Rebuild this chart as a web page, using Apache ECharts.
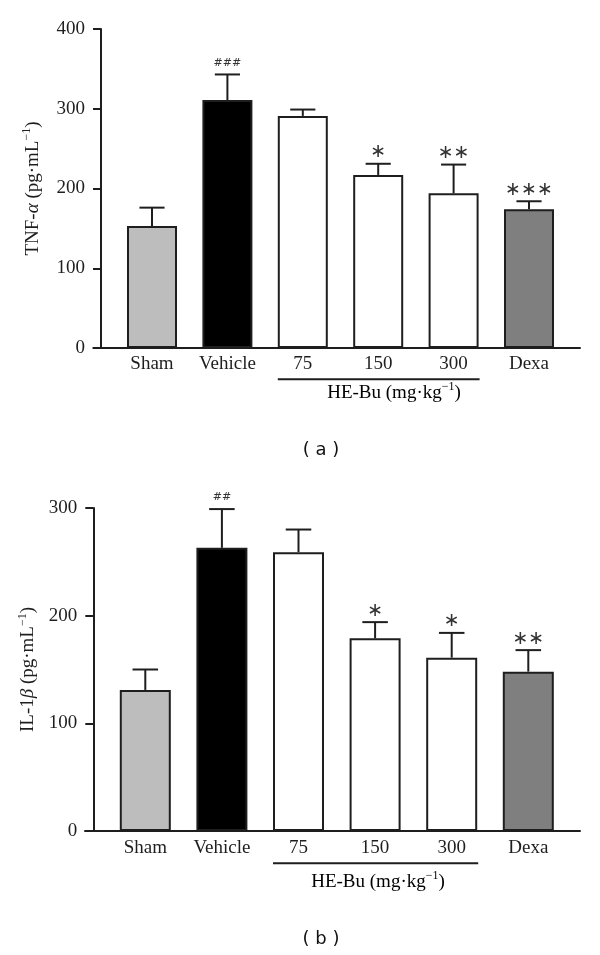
<!DOCTYPE html>
<html>
<head>
<meta charset="utf-8">
<script src="https://cdn.jsdelivr.net/npm/echarts@6/dist/echarts.min.js"></script>
<style>
html,body{margin:0;padding:0;background:#fff;}
#main{width:600px;height:955px;}
</style>
</head>
<body>
<div id="main"></div>
<script>
// ---- data ----
const categories = ['Sham', 'Vehicle', '75', '150', '300', 'Dexa'];
const tnfMean = [153, 311, 291, 217, 194, 174];
const tnfSem  = [23, 32, 8, 14, 36, 10];
const tnfSig  = ['', '###', '', '∗', '∗∗', '∗∗∗'];
const il1Mean = [131, 263, 259, 179, 161, 148];
const il1Sem  = [19, 36, 21, 15, 23, 20];
const il1Sig  = ['', '##', '', '∗', '∗', '∗∗'];
const tnfTicks = [0, 100, 200, 300, 400];
const il1Ticks = [0, 100, 200, 300];

// ---- style ----
const barColors = ['#bdbdbd', '#000000', '#ffffff', '#ffffff', '#ffffff', '#7f7f7f'];
const ink = '#1e1e1e';
const serif = '"Liberation Serif", "Times New Roman", serif';
const fs = 19;

const chart = echarts.init(document.getElementById('main'), null, {renderer: 'canvas'});

const richName = {
  n: {fontFamily: serif, fontSize: fs, color: ink},
  i: {fontFamily: serif, fontSize: fs, color: ink, fontStyle: 'italic'},
  s: {fontFamily: serif, fontSize: 12, color: ink, verticalAlign: 'top', lineHeight: 24}
};

function barSeries(gi, means) {
  return {
    type: 'bar', xAxisIndex: gi, yAxisIndex: gi,
    barWidth: gi === 0 ? 50 : 51,
    data: means.map((v, i) => ({value: v, itemStyle: {color: barColors[i]}})),
    itemStyle: {borderColor: ink, borderWidth: 2},
    silent: true, z: 2
  };
}

function errSeries(gi, means, sems, sigs) {
  return {
    type: 'custom', xAxisIndex: gi, yAxisIndex: gi, z: 5, silent: true,
    data: means.map((v, i) => [i, v, sems[i]]),
    renderItem: function (params, api) {
      const i = api.value(0);
      const base = api.coord([i, api.value(1)]);
      const top = api.coord([i, api.value(1) + api.value(2)]);
      const band = api.size([1, 0])[0];
      const half = band / 6;
      const sig = sigs[params.dataIndex];
      const children = [
        {type: 'line', shape: {x1: base[0], y1: base[1], x2: top[0], y2: top[1]}, style: {stroke: ink, lineWidth: 2}},
        {type: 'line', shape: {x1: top[0] - half, y1: top[1], x2: top[0] + half, y2: top[1]}, style: {stroke: ink, lineWidth: 2}}
      ];
      if (sig) {
        const isHash = sig.indexOf('#') >= 0;
        children.push({
          type: 'text',
          style: {
            text: sig, x: top[0], y: top[1] - (isHash ? 6 : 2),
            align: 'center', verticalAlign: 'bottom',
            fontFamily: '"DejaVu Sans", sans-serif',
            fontSize: isHash ? 11 : 19, fill: '#333'
          }
        });
      }
      return {type: 'group', children: children};
    }
  };
}

const option = {
  animation: false,
  grid: [
    {left: 114.3, top: 29, width: 452.4, height: 319},
    {left: 93.3, top: 29, width: 486.7, height: 319},
    {left: 107, top: 508, width: 459.6, height: 323},
    {left: 85, top: 508, width: 495, height: 323}
  ],
  xAxis: [
    {gridIndex: 0, type: 'category', data: categories,
     axisLine: {show: false}, axisTick: {show: false},
     axisLabel: {fontFamily: serif, fontSize: fs, color: ink, margin: 7}},
    {gridIndex: 1, type: 'value', min: 0, max: 1,
     axisLine: {show: true, lineStyle: {color: ink, width: 2}}, axisTick: {show: false},
     axisLabel: {show: false}, splitLine: {show: false}},
    {gridIndex: 2, type: 'category', data: categories,
     axisLine: {show: false}, axisTick: {show: false},
     axisLabel: {fontFamily: serif, fontSize: fs, color: ink, margin: 8}},
    {gridIndex: 3, type: 'value', min: 0, max: 1,
     axisLine: {show: true, lineStyle: {color: ink, width: 2}}, axisTick: {show: false},
     axisLabel: {show: false}, splitLine: {show: false}}
  ],
  yAxis: [
    {gridIndex: 0, type: 'value', min: tnfTicks[0], max: tnfTicks[tnfTicks.length - 1], interval: 100,
     offset: 13.3,
     axisLine: {show: true, lineStyle: {color: ink, width: 2}},
     axisTick: {show: true, length: 8, lineStyle: {color: ink, width: 2}},
     axisLabel: {fontFamily: serif, fontSize: fs, color: ink, margin: 16},
     splitLine: {show: false},
     name: '{n|TNF-}{i|α}{n| (pg·mL}{s|−1}{n|)}', nameLocation: 'middle', nameGap: 56,
     nameTextStyle: {rich: richName}},
    {gridIndex: 1, type: 'value', show: false, min: 0, max: 1},
    {gridIndex: 2, type: 'value', min: il1Ticks[0], max: il1Ticks[il1Ticks.length - 1], interval: 100,
     offset: 13.7,
     axisLine: {show: true, lineStyle: {color: ink, width: 2}},
     axisTick: {show: true, length: 8, lineStyle: {color: ink, width: 2}},
     axisLabel: {fontFamily: serif, fontSize: fs, color: ink, margin: 16},
     splitLine: {show: false},
     name: '{n|IL-1}{i|β}{n| (pg·mL}{s|−1}{n|)}', nameLocation: 'middle', nameGap: 49,
     nameTextStyle: {rich: richName}},
    {gridIndex: 3, type: 'value', show: false, min: 0, max: 1}
  ],
  series: [
    barSeries(0, tnfMean),
    errSeries(0, tnfMean, tnfSem, tnfSig),
    barSeries(2, il1Mean),
    errSeries(2, il1Mean, il1Sem, il1Sig)
  ]
};
chart.setOption(option);

// group underline and labels
function groupGraphics(xi, bw, lineY, labelX, labelY, panel, panelY) {
  const a = chart.convertToPixel({xAxisIndex: xi}, '75');
  const b = chart.convertToPixel({xAxisIndex: xi}, '300');
  return [
    {type: 'line', shape: {x1: a - bw / 2, y1: lineY, x2: b + bw / 2 + 1, y2: lineY},
     style: {stroke: ink, lineWidth: 2}, silent: true},
    {type: 'text', x: labelX, y: labelY,
     style: {text: '{n|HE-Bu (mg·kg}{s|−1}{n|)}', rich: richName, align: 'center', verticalAlign: 'middle'}, silent: true},
    {type: 'text', x: 321, y: panelY,
     style: {text: panel, fontFamily: '"DejaVu Sans", sans-serif', fontSize: 18, fill: '#111',
             align: 'center', verticalAlign: 'middle'}, silent: true}
  ];
}
chart.setOption({
  graphic: [].concat(
    groupGraphics(0, 50, 379.3, 394, 393.3, '( a )', 450),
    groupGraphics(2, 51, 863.3, 378, 881.7, '( b )', 939.3)
  )
});
</script>
</body>
</html>
